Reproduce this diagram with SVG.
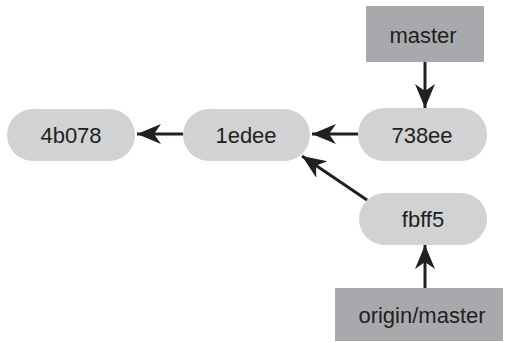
<svg xmlns="http://www.w3.org/2000/svg" width="505" height="342" viewBox="0 0 505 342">
<style>
.pill{fill:#d1d2d4}
.box{fill:#a7a9ac}
.t{font-family:"Liberation Sans",Arial,sans-serif;font-size:22px;fill:#231f20;text-anchor:middle;dominant-baseline:central}
.c{stroke:#231f20;stroke-width:3;fill:none}
</style>
<defs>
<marker id="ah" markerUnits="userSpaceOnUse" markerWidth="26" markerHeight="22" refX="24" refY="11" orient="auto" viewBox="0 0 26 22">
<path d="M0,1 L24,11 L0,21 L7,11 Z" fill="#231f20"/>
</marker>
</defs>
<rect width="505" height="342" fill="#fff"/>
<g id="n4b078"><rect class="pill" x="7" y="109" width="128" height="52" rx="26"/><text class="t" x="71" y="135">4b078</text></g>
<g id="n1edee"><rect class="pill" x="183" y="109" width="127" height="52" rx="26"/><text class="t" x="246" y="135">1edee</text></g>
<g id="n738ee"><rect class="pill" x="358" y="108" width="129" height="53" rx="26"/><text class="t" x="422" y="135">738ee</text></g>
<g id="nfbff5"><rect class="pill" x="359" y="193" width="128" height="52" rx="26"/><text class="t" x="423" y="219">fbff5</text></g>
<g id="master"><rect class="box" x="366" y="6" width="118" height="56"/><text class="t" x="423" y="35">master</text></g>
<g id="origin"><rect class="box" x="335" y="288" width="168" height="53"/><text class="t" x="422" y="315">origin/master</text></g>
<g id="connectors">
<line class="c" x1="183" y1="134" x2="137" y2="134" marker-end="url(#ah)"/>
<line class="c" x1="358" y1="134" x2="312" y2="134" marker-end="url(#ah)"/>
<line class="c" x1="367" y1="200" x2="302" y2="156" marker-end="url(#ah)"/>
<line class="c" x1="425" y1="62" x2="425" y2="108" marker-end="url(#ah)"/>
<line class="c" x1="425" y1="288" x2="425" y2="245" marker-end="url(#ah)"/>
</g>
</svg>
